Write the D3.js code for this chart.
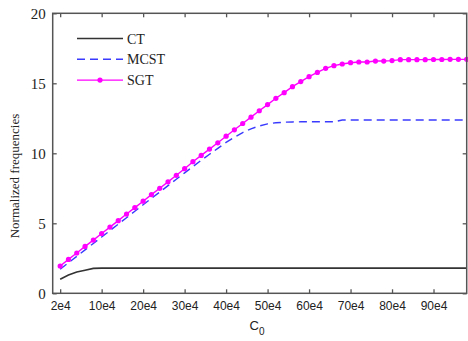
<!DOCTYPE html>
<html>
<head>
<meta charset="utf-8">
<script src="https://cdn.jsdelivr.net/npm/d3@7"></script>
<style>
  body { margin: 0; background: #fff; }
  svg { display: block; }
</style>
</head>
<body>
<svg id="chart" width="468" height="341"></svg>
<script>
// x positions are sample indices; labels are the C0 values shown under them
const xTickIndex = [0, 5, 10, 15, 20, 25, 30, 35, 40, 45];
const xTickLabels = ['2e4', '10e4', '20e4', '30e4', '40e4', '50e4', '60e4', '70e4', '80e4', '90e4'];
const yTicks = [0, 5, 10, 15, 20];

const ctValues = [
  1.0, 1.3, 1.52, 1.65, 1.78, 1.8, 1.8, 1.8, 1.8, 1.8,
  1.8, 1.8, 1.8, 1.8, 1.8, 1.8, 1.8, 1.8, 1.8, 1.8,
  1.8, 1.8, 1.8, 1.8, 1.8, 1.8, 1.8, 1.8, 1.8, 1.8,
  1.8, 1.8, 1.8, 1.8, 1.8, 1.8, 1.8, 1.8, 1.8, 1.8,
  1.8, 1.8, 1.8, 1.8, 1.8, 1.8, 1.8, 1.8, 1.8, 1.8
];
const mcstValues = [
  1.72, 2.18, 2.64, 3.10, 3.56, 4.02, 4.48, 4.94, 5.40, 5.86,
  6.32, 6.78, 7.23, 7.69, 8.15, 8.60, 9.05, 9.50, 9.93, 10.35,
  10.78, 11.15, 11.48, 11.75, 11.95, 12.10, 12.18, 12.22, 12.24, 12.25,
  12.25, 12.25, 12.25, 12.25, 12.38, 12.38, 12.38, 12.38, 12.38, 12.38,
  12.38, 12.38, 12.38, 12.38, 12.38, 12.38, 12.38, 12.38, 12.38, 12.38
];
const sgtValues = [
  1.95, 2.42, 2.88, 3.35, 3.80, 4.27, 4.73, 5.19, 5.66, 6.12,
  6.58, 7.05, 7.50, 7.96, 8.43, 8.90, 9.40, 9.85, 10.30, 10.75,
  11.22, 11.68, 12.13, 12.58, 13.04, 13.48, 13.93, 14.33, 14.76, 15.12,
  15.47, 15.78, 16.07, 16.26, 16.38, 16.47, 16.52, 16.52, 16.59, 16.59,
  16.62, 16.69, 16.69, 16.69, 16.69, 16.70, 16.70, 16.71, 16.71, 16.71
];
const seriesNames = ['CT', 'MCST', 'SGT'];

const svg = d3.select('#chart');
const plotLeft = 52.7, plotRight = 466.7, plotTop = 13.3, plotBottom = 293.3;

const x = d3.scaleLinear().domain([-0.9, 49]).range([plotLeft, plotRight]);
const y = d3.scaleLinear().domain([0, 20]).range([plotBottom, plotTop]);

const axisColor = '#555';
const tickLen = 4;

const series = [
  { name: seriesNames[0], values: ctValues, color: '#333', dash: null, width: 1.6, marker: false },
  { name: seriesNames[1], values: mcstValues, color: '#3a3aff', dash: '8,5', width: 1.4, marker: false },
  { name: seriesNames[2], values: sgtValues, color: '#ff00ff', dash: null, width: 1.4, marker: true }
];

const line = d3.line()
  .x((d, i) => x(i))
  .y(d => y(d));

// lines
series.forEach(s => {
  svg.append('path')
    .datum(s.values)
    .attr('d', line)
    .attr('fill', 'none')
    .attr('stroke', s.color)
    .attr('stroke-width', s.width)
    .attr('stroke-dasharray', s.dash);
  if (s.marker) {
    svg.append('g')
      .selectAll('circle')
      .data(s.values)
      .enter()
      .append('circle')
      .attr('cx', (d, i) => x(i))
      .attr('cy', d => y(d))
      .attr('r', 2.6)
      .attr('fill', s.color);
  }
});

// axes: box with inward ticks on all four sides
const bottomAxis = d3.axisBottom(x)
  .tickValues(xTickIndex)
  .tickFormat((d, i) => xTickLabels[i])
  .tickSizeInner(-tickLen)
  .tickSizeOuter(0)
  .tickPadding(8);
const topAxis = d3.axisTop(x)
  .tickValues(xTickIndex)
  .tickFormat('')
  .tickSizeInner(-tickLen)
  .tickSizeOuter(0);
const leftAxis = d3.axisLeft(y)
  .tickValues(yTicks)
  .tickSizeInner(-tickLen)
  .tickSizeOuter(0)
  .tickPadding(7);
const rightAxis = d3.axisRight(y)
  .tickValues(yTicks)
  .tickFormat('')
  .tickSizeInner(-tickLen)
  .tickSizeOuter(0);

const gb = svg.append('g').attr('transform', 'translate(0,' + plotBottom + ')').call(bottomAxis);
const gt = svg.append('g').attr('transform', 'translate(0,' + plotTop + ')').call(topAxis);
const gl = svg.append('g').attr('transform', 'translate(' + plotLeft + ',0)').call(leftAxis);
const gr = svg.append('g').attr('transform', 'translate(' + plotRight + ',0)').call(rightAxis);

[gb, gt, gl, gr].forEach(g => {
  g.selectAll('.domain').remove();
  g.selectAll('line').attr('stroke', axisColor).attr('stroke-width', 1.3);
});
gb.selectAll('text')
  .attr('fill', '#222')
  .style('font-family', '"Liberation Sans", Arial, sans-serif')
  .style('font-size', '12px');
gl.selectAll('text')
  .attr('fill', '#222')
  .style('font-family', '"Liberation Serif", "Times New Roman", serif')
  .style('font-size', '15px');

svg.append('rect')
  .attr('x', plotLeft)
  .attr('y', plotTop)
  .attr('width', plotRight - plotLeft)
  .attr('height', plotBottom - plotTop)
  .attr('fill', 'none')
  .attr('stroke', axisColor)
  .attr('stroke-width', 1.5);

// axis titles
const xTitle = svg.append('text')
  .attr('x', 257)
  .attr('y', 330)
  .attr('text-anchor', 'middle')
  .attr('fill', '#222')
  .style('font-family', '"Liberation Sans", Arial, sans-serif')
  .style('font-size', '13px');
xTitle.append('tspan').text('C');
xTitle.append('tspan').attr('dy', 5).style('font-size', '10px').text('0');

svg.append('text')
  .attr('transform', 'translate(19,176) rotate(-90)')
  .attr('text-anchor', 'middle')
  .attr('fill', '#222')
  .style('font-family', '"Liberation Serif", "Times New Roman", serif')
  .style('font-size', '13px')
  .text('Normalized frequencies');

// legend
const legend = svg.append('g').attr('transform', 'translate(77,38.5)');
series.forEach((s, i) => {
  const row = legend.append('g').attr('transform', 'translate(0,' + (i * 20.8) + ')');
  row.append('line')
    .attr('x1', 0).attr('x2', 46)
    .attr('y1', 0).attr('y2', 0)
    .attr('stroke', s.color)
    .attr('stroke-width', s.width)
    .attr('stroke-dasharray', s.dash);
  if (s.marker) {
    row.append('circle').attr('cx', 23).attr('cy', 0).attr('r', 2.6).attr('fill', s.color);
  }
  row.append('text')
    .attr('x', 50)
    .attr('y', 5)
    .attr('fill', '#222')
    .style('font-family', '"Liberation Serif", "Times New Roman", serif')
    .style('font-size', '14px')
    .text(s.name);
});
</script>
</body>
</html>
